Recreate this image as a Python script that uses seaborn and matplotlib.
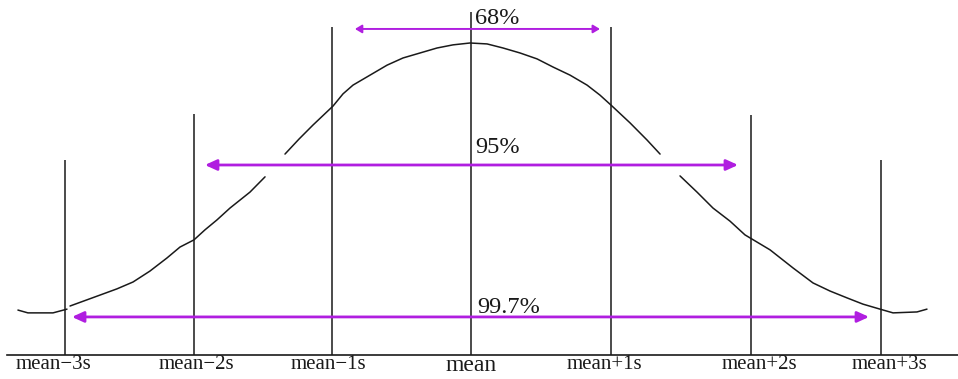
import numpy as np
import pandas as pd
import matplotlib
matplotlib.use("Agg")
import matplotlib.pyplot as plt
import seaborn as sns

# ---- data (x in standard deviations from the mean, y as relative height) ----
seg0_x = [-3.271, -3.199, -3.018, -2.917]
seg0_y = [0.144, 0.135, 0.135, 0.147]
seg1_x = [-2.895, -2.679, -2.556, -2.440, -2.318, -2.195, -2.101, -2.000, -1.921,
          -1.834, -1.740, -1.596, -1.487]
seg1_y = [0.157, 0.192, 0.212, 0.234, 0.269, 0.311, 0.346, 0.369, 0.401,
          0.433, 0.471, 0.522, 0.571]
seg2_x = [-1.343, -1.242, -1.141, -0.996, -0.924, -0.852, -0.729, -0.606, -0.491,
          -0.368, -0.245, -0.130, -0.007, 0.116, 0.231, 0.354, 0.477, 0.592,
          0.715, 0.838, 0.931, 1.018, 1.148, 1.271, 1.365]
seg2_y = [0.644, 0.692, 0.737, 0.798, 0.837, 0.865, 0.897, 0.929, 0.952,
          0.968, 0.984, 0.994, 1.000, 0.997, 0.984, 0.968, 0.949, 0.923,
          0.897, 0.865, 0.833, 0.798, 0.744, 0.689, 0.644]
seg3_x = [1.509, 1.632, 1.747, 1.870, 1.978, 2.159, 2.325, 2.469, 2.592, 2.715,
          2.830, 2.953, 3.047, 3.220, 3.292]
seg3_y = [0.574, 0.522, 0.471, 0.429, 0.385, 0.337, 0.279, 0.231, 0.205, 0.183,
          0.163, 0.147, 0.135, 0.138, 0.147]

line_pos = [-2.93, -2.00, -1.00, 0.0, 1.01, 2.02, 2.96]
line_top = [0.625, 0.772, 1.051, 1.099, 1.051, 0.769, 0.625]

tick_labels = ["mean\u22123s", "mean\u22122s", "mean\u22121s", "mean",
               "mean+1s", "mean+2s", "mean+3s"]
label_pos = [-3.011, -1.986, -1.032, 0.0, 0.960, 2.079, 3.018]

pct_labels = ["68%", "95%", "99.7%"]
arrow_left = [-0.838, -1.921, -2.881]
arrow_right = [0.931, 1.928, 2.874]
arrow_y = [1.045, 0.609, 0.122]
pct_y = [1.062, 0.647, 0.135]
pct_x = [0.029, 0.029, 0.043]

# ---- drawing ----
sns.set_style("white")
plt.rcParams["font.family"] = ["Liberation Serif", "DejaVu Serif"]

fig = plt.figure(figsize=(9.58, 3.79), dpi=100)
ax = fig.add_axes([7 / 958, 24 / 379, 951 / 958, 355 / 379])

segs = [(seg0_x, seg0_y), (seg1_x, seg1_y), (seg2_x, seg2_y), (seg3_x, seg3_y)]
df = pd.concat([pd.DataFrame({"x": sx, "y": sy, "seg": k})
                for k, (sx, sy) in enumerate(segs)], ignore_index=True)
sns.lineplot(data=df, x="x", y="y", units="seg", estimator=None, sort=False,
             color="#1a1a1a", linewidth=1.1, ax=ax, legend=False)

ax.vlines(line_pos, 0, line_top, color="#1a1a1a", linewidth=1.1)

purple = "#B01EE0"
for i, lab in enumerate(pct_labels):
    small = (i == 0)
    ax.annotate("", xy=(arrow_right[i], arrow_y[i]), xytext=(arrow_left[i], arrow_y[i]),
                arrowprops=dict(arrowstyle="<|-|>,head_length=%s,head_width=%s" %
                                ((0.5, 0.3) if small else (0.7, 0.32)),
                                mutation_scale=8 if small else 10,
                                color=purple, lw=1.4 if small else 2.0,
                                shrinkA=0, shrinkB=0))
    ax.text(pct_x[i], pct_y[i], lab, ha="left", va="baseline",
            fontsize=17.5, color="#1a1a1a")

ax.set_xlim(-3.350, 3.516)
ax.set_ylim(0, 1.1378)
ax.set_xticks(label_pos)
ax.set_xticklabels(tick_labels)
for t in ax.get_xticklabels():
    t.set_fontsize(17 if t.get_text() == "mean" else 15)
    t.set_color("#1a1a1a")
ax.tick_params(axis="x", length=0, pad=0)
ax.set_yticks([])
ax.set_xlabel("")
ax.set_ylabel("")
for side in ["top", "left", "right"]:
    ax.spines[side].set_visible(False)
ax.spines["bottom"].set_color("#1a1a1a")
ax.spines["bottom"].set_linewidth(1.2)

fig.savefig("out.png", dpi=100)
